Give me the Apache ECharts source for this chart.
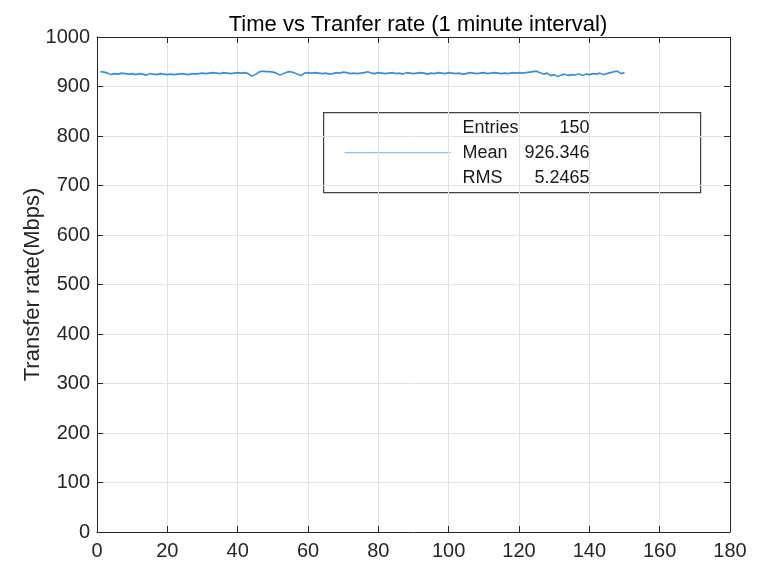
<!DOCTYPE html>
<html>
<head>
<meta charset="utf-8">
<script src="https://cdn.jsdelivr.net/npm/echarts@6/dist/echarts.min.js"></script>
<style>
  html, body { margin: 0; padding: 0; background: #ffffff; }
  #chart { width: 757px; height: 565px; }
</style>
</head>
<body>
<div id="chart"></div>
<script>
// Transfer rate sampled once per minute (Mbps), minutes 1..150
const rateMbps = [
  930, 929, 927, 924, 926, 925, 927, 926, 925, 926,
  924, 926, 925, 923, 926, 925, 924, 926, 925, 924,
  925, 924, 925, 926, 925, 924, 926, 925, 926, 927,
  926, 927, 928, 927, 926, 928, 927, 926, 927, 928,
  927, 928, 926, 921, 924, 929, 931, 930, 930, 929,
  927, 923, 926, 929, 930, 928, 925, 922, 927, 928,
  927, 928, 927, 926, 927, 925, 926, 928, 927, 929,
  928, 926, 927, 926, 927, 928, 930, 927, 926, 928,
  927, 926, 927, 928, 926, 927, 925, 928, 927, 926,
  927, 928, 927, 925, 927, 926, 928, 927, 926, 928,
  927, 926, 927, 925, 926, 928, 927, 926, 927, 928,
  926, 927, 928, 927, 926, 927, 926, 928, 927, 928,
  927, 928, 929, 930, 931, 928, 925, 927, 922, 924,
  920, 923, 925, 922, 924, 923, 926, 922, 925, 924,
  926, 925, 927, 924, 926, 928, 930, 931, 926, 928
];

// Summary statistics shown in the stats box
const statNames = ['Entries', 'Mean', 'RMS'];
const statValues = ['150', '926.346', '5.2465'];

const xTicks = { min: 0, max: 180, interval: 20 };
const yTicks = { min: 0, max: 1000, interval: 100 };

const points = rateMbps.map((v, i) => [i + 1, v]);

const axisColor = '#262626';
const gridColor = '#e3e3e3';
const font = '"Liberation Sans", Arial, Helvetica, sans-serif';

const chart = echarts.init(document.getElementById('chart'), null, { renderer: 'canvas' });

const boxX = 323, boxY = 112, boxW = 377, boxH = 80;

const plainNumber = v => String(v);

chart.setOption({
  animation: false,
  backgroundColor: '#ffffff',
  title: {
    text: 'Time vs Tranfer rate (1 minute interval)',
    left: 413,
    top: 9,
    textAlign: 'center',
    textStyle: { fontFamily: font, fontSize: 22, fontWeight: 'normal', color: '#000000' }
  },
  grid: { left: 97, right: 27, top: 37, bottom: 33, containLabel: false },
  xAxis: [
    {
      type: 'value', position: 'bottom', ...xTicks,
      axisLine: { show: true, onZero: false, lineStyle: { color: axisColor, width: 1 } },
      axisTick: { show: true, inside: true, length: 6, lineStyle: { color: axisColor } },
      axisLabel: { color: axisColor, fontFamily: font, fontSize: 20, margin: 9, formatter: plainNumber },
      splitLine: { show: true, lineStyle: { color: gridColor, width: 1 } }
    },
    {
      type: 'value', position: 'top', ...xTicks,
      axisLine: { show: true, onZero: false, lineStyle: { color: axisColor, width: 1 } },
      axisTick: { show: true, inside: true, length: 6, lineStyle: { color: axisColor } },
      axisLabel: { show: false },
      splitLine: { show: false }
    }
  ],
  yAxis: [
    {
      type: 'value', position: 'left', ...yTicks,
      name: 'Transfer rate(Mbps)',
      nameLocation: 'middle',
      nameGap: 53,
      nameMoveOverlap: false,
      nameTextStyle: { color: axisColor, fontFamily: font, fontSize: 22 },
      axisLine: { show: true, onZero: false, lineStyle: { color: axisColor, width: 1 } },
      axisTick: { show: true, inside: true, length: 6, lineStyle: { color: axisColor } },
      axisLabel: { color: axisColor, fontFamily: font, fontSize: 20, margin: 7, formatter: plainNumber },
      splitLine: { show: true, lineStyle: { color: gridColor, width: 1 } }
    },
    {
      type: 'value', position: 'right', ...yTicks,
      axisLine: { show: true, onZero: false, lineStyle: { color: axisColor, width: 1 } },
      axisTick: { show: true, inside: true, length: 6, lineStyle: { color: axisColor } },
      axisLabel: { show: false },
      splitLine: { show: false }
    }
  ],
  series: [
    {
      type: 'line',
      xAxisIndex: 0,
      yAxisIndex: 0,
      data: points,
      showSymbol: false,
      lineStyle: { color: '#3a8fd4', width: 1.6 },
      z: 3
    }
  ],
  graphic: [
    {
      type: 'group',
      left: boxX, top: boxY,
      z: 10,
      children: [
        {
          type: 'rect',
          shape: { x: 0, y: 0, width: boxW, height: boxH },
          style: { fill: '#ffffff', stroke: '#404040', lineWidth: 1.2 }
        },
        {
          type: 'line',
          shape: { x1: 21, y1: 40, x2: 127, y2: 40 },
          style: { stroke: '#8cc2e8', lineWidth: 1.2 }
        },
        ...statNames.map((name, i) => ({
          type: 'text',
          style: {
            x: 139, y: 15 + i * 25,
            text: name,
            fill: '#1a1a1a',
            font: '18px ' + font,
            textVerticalAlign: 'middle'
          }
        })),
        ...statValues.map((val, i) => ({
          type: 'text',
          style: {
            x: 266, y: 15 + i * 25,
            text: val,
            fill: '#1a1a1a',
            font: '18px ' + font,
            textAlign: 'right',
            textVerticalAlign: 'middle'
          }
        }))
      ]
    }
  ]
});
</script>
</body>
</html>
